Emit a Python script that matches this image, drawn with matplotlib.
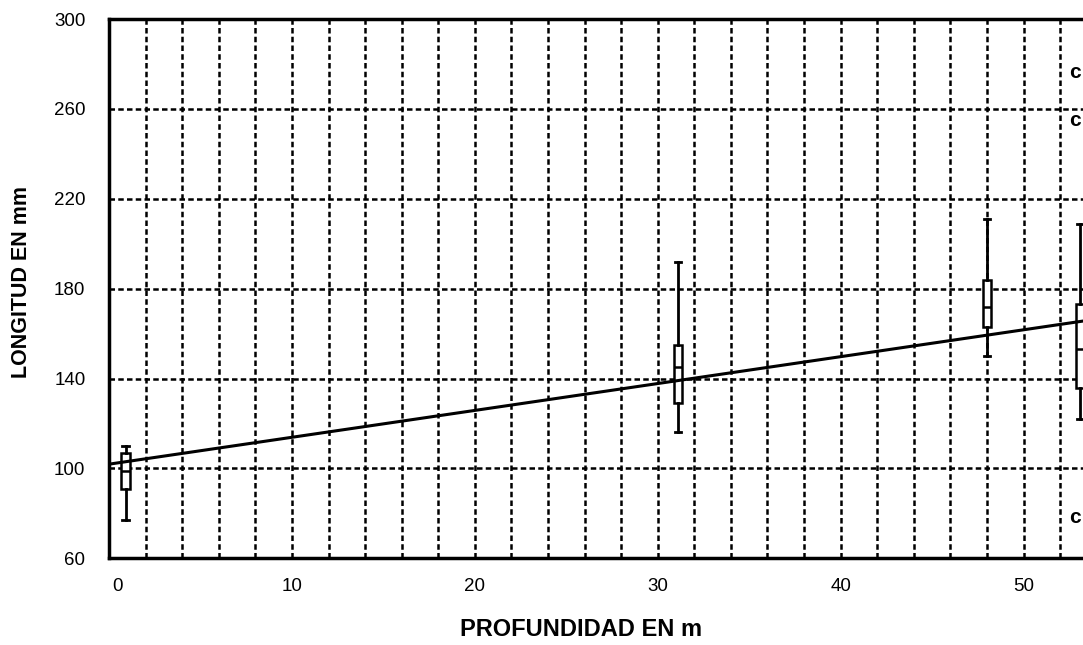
import numpy as np
import matplotlib.pyplot as plt
from matplotlib import font_manager
from matplotlib.transforms import ScaledTranslation

plt.rcParams['font.family'] = ['Liberation Sans', 'DejaVu Sans']

# depth of each sample (m) and length summary (mm)
depth = [0.9, 31.1, 48.0, 53.1]
whisk_lo = [77, 116, 150, 122]
q1 = [91, 129, 163, 136]
median = [99, 145, 172, 153]
q3 = [107, 155, 184, 173]
whisk_hi = [110, 192, 211, 209]

# regression line: length = a + b * depth
intercept = 101.9
slope = 1.196

# letters at the right edge (cut off in the source)
letter_y = [276, 255, 78]
letter_txt = ['c', 'c', 'c']

xticks = [0, 10, 20, 30, 40, 50]
yticks = [60, 100, 140, 180, 220, 260, 300]

names = {f.name for f in font_manager.fontManager.ttflist}
tick_font = 'Liberation Sans Narrow' if 'Liberation Sans Narrow' in names else 'Liberation Sans'
tick_size = 15 if tick_font == 'Liberation Sans Narrow' else 13.5

fig = plt.figure(figsize=(10.83, 6.45), dpi=100)
ax = fig.add_axes([0.1007, 0.1344, 0.8993, 0.8361])
ax.set_xlim(0, 53.25)
ax.set_ylim(60, 300)

# grid
for gx in np.arange(2, 53, 2):
    ax.axvline(gx, color='black', lw=1.8, ls=(0, (2.2, 1.3)), zorder=1)
for gy in yticks[1:-1]:
    ax.axhline(gy, color='black', lw=1.8, ls=(0, (2.2, 1.3)), zorder=1)

stats = []
for i in range(len(depth)):
    stats.append(dict(whislo=whisk_lo[i], q1=q1[i], med=median[i],
                      q3=q3[i], whishi=whisk_hi[i], fliers=[]))
ax.bxp(stats, positions=depth, widths=0.45, capwidths=0.35,
       patch_artist=True, manage_ticks=False, zorder=3,
       boxprops=dict(facecolor='white', edgecolor='black', lw=1.8),
       whiskerprops=dict(color='black', lw=2),
       capprops=dict(color='black', lw=2),
       medianprops=dict(color='black', lw=1.8))

xl = np.array(ax.get_xlim())
ax.plot(xl, intercept + slope * xl, color='black', lw=2.2, zorder=4)

# letters hug the right edge, kept fully inside the picture
for yy, t in zip(letter_y, letter_txt):
    ax.text(0.998, yy, t, fontsize=15, fontweight='bold', va='center', ha='right',
            transform=ax.get_yaxis_transform())

ax.set_xticks(xticks)
ax.set_yticks(yticks)
ax.tick_params(length=0, labelsize=tick_size, colors='black')
ax.tick_params(axis='x', pad=14)
ax.tick_params(axis='y', pad=17)
for lb in ax.get_xticklabels() + ax.get_yticklabels():
    lb.set_family([tick_font, 'DejaVu Sans'])
# the "0" sits a little right of the axis in the source
lbl0 = ax.get_xticklabels()[0]
lbl0.set_transform(lbl0.get_transform() + ScaledTranslation(0.08, 0, fig.dpi_scale_trans))

for s in ['left', 'bottom', 'top']:
    ax.spines[s].set_linewidth(2.5)
ax.spines['right'].set_visible(False)

fig.text(0.5365, 1 - 629 / 645, 'PROFUNDIDAD EN m', fontsize=17, fontweight='bold',
         ha='center', va='center')
fig.text(22 / 1083, 1 - 282 / 645, 'LONGITUD EN mm', fontsize=15.5, fontweight='bold',
         ha='center', va='center', rotation=90)

fig.savefig('out.png', dpi=100)
